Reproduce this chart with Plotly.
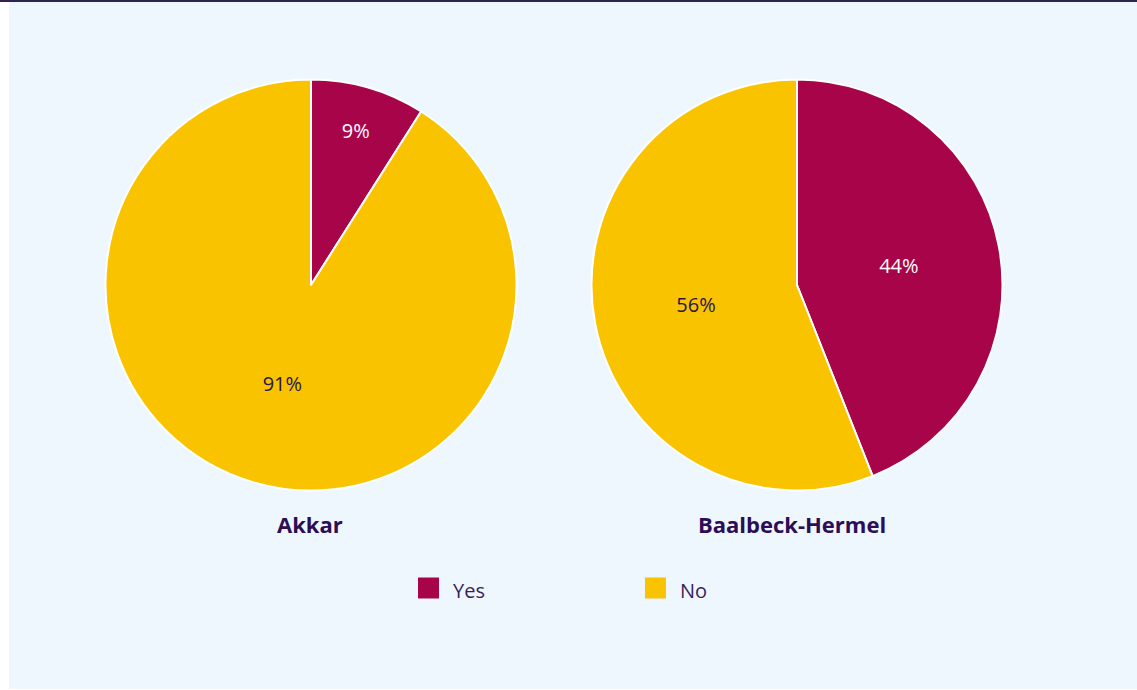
import plotly.graph_objects as go

# Share of respondents answering Yes / No, by governorate
regions = ["Akkar", "Baalbeck-Hermel"]
answers = ["Yes", "No"]
akkar_values = [9, 91]
baalbeck_values = [44, 56]

colors = {"Yes": "#A8044A", "No": "#F9C300"}
text_colors = {"Yes": "#FFFFFF", "No": "#2A1748"}
title_color = "#2D0D55"
panel_bg = "#EEF7FD"

W, H = 1137, 690

# pie centres and radius in pixels
centers = [(311, 285), (797, 285)]
R = 205.5


def dom(cx, cy):
    return dict(x=[(cx - R) / W, (cx + R) / W],
                y=[1 - (cy + R) / H, 1 - (cy - R) / H])


fig = go.Figure()
for name, vals, (cx, cy) in zip(regions, [akkar_values, baalbeck_values], centers):
    fig.add_trace(go.Pie(
        labels=answers,
        values=vals,
        name=name,
        sort=False,
        direction="clockwise",
        rotation=0,
        domain=dom(cx, cy),
        marker=dict(colors=[colors[a] for a in answers],
                    line=dict(color="#FFFFFF", width=2)),
        texttemplate="%{value}%",
        textposition="inside",
        insidetextorientation="horizontal",
        insidetextfont=dict(family="Open Sans", size=20,
                            color=[text_colors[a] for a in answers]),
        hoverinfo="label+percent",
        showlegend=False,
    ))

shapes = [
    # light panel
    dict(type="rect", xref="paper", yref="paper", x0=9 / W, x1=1, y0=1 / H, y1=1,
         fillcolor=panel_bg, line=dict(width=0), layer="below"),
    # top rule
    dict(type="rect", xref="paper", yref="paper", x0=0, x1=1, y0=1 - 2 / H, y1=1,
         fillcolor="#2F2350", line=dict(width=0), layer="below"),
]

annotations = []
# region titles under each pie
for name, (cx, cy) in zip(regions, [(310, 524), (792, 524)]):
    annotations.append(dict(
        text=f"<b>{name}</b>", x=cx / W, y=1 - cy / H, xref="paper", yref="paper",
        showarrow=False, xanchor="center", yanchor="middle",
        font=dict(family="Open Sans", size=22, color=title_color)))

# legend: coloured squares with labels
legend_x = [418, 645]
legend_y = 588
sq = 21
for a, lx in zip(answers, legend_x):
    shapes.append(dict(type="rect", xref="paper", yref="paper",
                       x0=lx / W, x1=(lx + sq) / W,
                       y0=1 - (legend_y + sq / 2) / H, y1=1 - (legend_y - sq / 2) / H,
                       fillcolor=colors[a], line=dict(width=0)))
    annotations.append(dict(
        text=a, x=(lx + sq + 12) / W, y=1 - (legend_y + 2) / H,
        xref="paper", yref="paper", showarrow=False,
        xanchor="left", yanchor="middle",
        font=dict(family="Open Sans", size=20, color="#3A1E5C")))

fig.update_layout(
    width=W, height=H,
    margin=dict(l=0, r=0, t=0, b=0),
    paper_bgcolor="#FFFFFF",
    plot_bgcolor="#FFFFFF",
    shapes=shapes,
    annotations=annotations,
)

fig.write_html("out.html")
